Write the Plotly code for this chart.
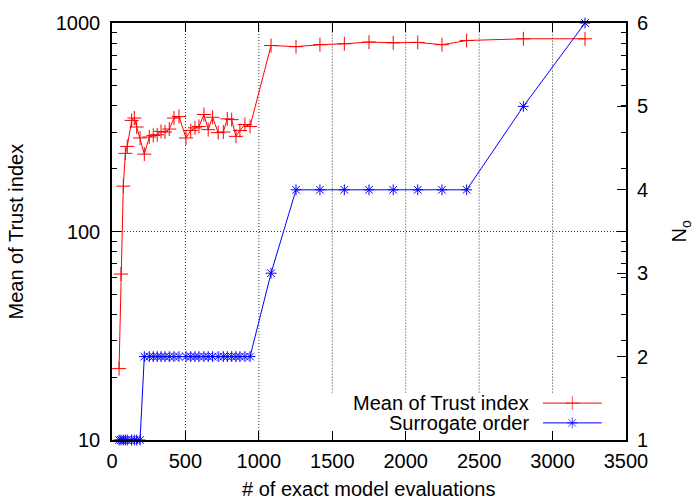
import plotly.graph_objects as go

# ---- data ----
evaluations = [48, 61, 77, 91, 104, 134, 152, 168, 191,
               220, 254, 281, 308, 334, 361, 390, 422, 456, 504, 536, 565, 592,
               626, 655, 685, 723, 758, 785, 815, 844, 871, 905, 940,
               1083, 1253, 1416, 1582, 1750, 1915, 2082, 2247, 2415, 2801, 3221]
trust_mean = [22, 62.5, 165, 237, 256, 341, 350, 317, 281,
              235, 284, 289, 291, 302, 300, 310, 350, 356, 281, 305, 314, 319,
              364, 308, 353, 298, 300, 347, 344, 286, 305, 326, 319,
              780, 770, 787, 795, 810, 804, 807, 787, 824, 840, 840]
surrogate_order = [1, 1, 1, 1, 1, 1, 1, 1, 1,
                   2, 2, 2, 2, 2, 2, 2, 2, 2, 2, 2, 2, 2,
                   2, 2, 2, 2, 2, 2, 2, 2, 2, 2, 2,
                   3, 4, 4, 4, 4, 4, 4, 4, 4, 5, 6]
x_ticks = [0, 500, 1000, 1500, 2000, 2500, 3000, 3500]
y_ticks = [10, 100, 1000]
y_minor = [20, 30, 40, 50, 60, 70, 80, 90, 200, 300, 400, 500, 600, 700, 800, 900]
y2_ticks = [1, 2, 3, 4, 5, 6]
series_names = ["Mean of Trust index", "Surrogate order"]

FONT = "Liberation Sans, Arial, Helvetica, sans-serif"
FS = 20
RED = "#ff0000"
BLUE = "#0000ff"
GRID = "#333333"

fig = go.Figure()
fig.add_trace(go.Scatter(
    x=evaluations, y=trust_mean, mode="lines+markers", name=series_names[0],
    line=dict(color=RED, width=1),
    marker=dict(symbol="cross-thin-open", size=10, line=dict(color=RED, width=1)),
    cliponaxis=False, showlegend=False))
fig.add_trace(go.Scatter(
    x=evaluations, y=surrogate_order, mode="lines+markers", name=series_names[1],
    yaxis="y2",
    line=dict(color=BLUE, width=1),
    marker=dict(symbol="asterisk-open", size=9, line=dict(color=BLUE, width=1)),
    cliponaxis=False, showlegend=False))

# legend samples (gnuplot-style: text left, sample right) on a hidden overlay axis
legend_y = [0.0884, 0.041]
for name, col, sym, ly in [(series_names[0], RED, "cross-thin-open", legend_y[0]),
                           (series_names[1], BLUE, "asterisk-open", legend_y[1])]:
    fig.add_trace(go.Scatter(
        x=[0.8385, 0.8955, 0.9527], y=[ly, ly, ly], mode="lines+markers",
        xaxis="x3", yaxis="y3",
        line=dict(color=col, width=1),
        marker=dict(symbol=sym, size=[0, 10 if sym.startswith("cross") else 9, 0],
                    line=dict(color=col, width=1)),
        showlegend=False, hoverinfo="skip", cliponaxis=False))
    fig.add_annotation(x=0.8152, y=ly, xref="paper", yref="paper", text=name,
                       showarrow=False, xanchor="right", yanchor="middle",
                       font=dict(size=FS, family=FONT, color="black"))

axis_common = dict(showline=True, linecolor="black", linewidth=1.5,
                   ticks="inside", ticklen=9, tickwidth=1.2, tickcolor="black",
                   tickfont=dict(size=FS, family=FONT, color="black"),
                   zeroline=False, showgrid=False)

fig.update_layout(
    width=698, height=500,
    margin=dict(l=112, r=72, t=18, b=60),
    paper_bgcolor="white", plot_bgcolor="white",
    font=dict(family=FONT, size=FS, color="black"),
    xaxis=dict(range=[0, 3500], tickmode="array", tickvals=x_ticks,
               mirror="ticks", ticklabelstandoff=2, **axis_common),
    yaxis=dict(type="log", range=[1, 3], tickmode="array", tickvals=y_ticks,
               ticktext=[str(v) for v in y_ticks],
               mirror="ticks", ticklabelstandoff=6,
               minor=dict(tickmode="array", tickvals=y_minor, ticks="inside",
                          ticklen=5, tickcolor="black", tickwidth=1),
               **axis_common),
    yaxis2=dict(overlaying="y", side="right", range=[1, 6], tickmode="array",
                tickvals=y2_ticks, showgrid=False, showline=False, zeroline=False,
                ticks="inside", ticklen=9, tickwidth=1.2, tickcolor="black",
                ticklabelstandoff=10,
                tickfont=dict(size=FS, family=FONT, color="black")),
    xaxis3=dict(overlaying="x", range=[0, 1], visible=False),
    yaxis3=dict(overlaying="y", range=[0, 1], visible=False, anchor="x3"),
)

# dotted grid; lines under the opaque key box stop at its top (as gnuplot does)
key_top = 0.1137
for xv in x_ticks[1:-1]:
    fig.add_shape(type="line", xref="x", yref="y domain", x0=xv, x1=xv,
                  y0=key_top if xv >= 1500 else 0, y1=1,
                  line=dict(color=GRID, width=1, dash="1px,2px"), layer="below")
for yv in y_ticks[1:-1]:
    fig.add_shape(type="line", xref="x domain", yref="y", x0=0, x1=1, y0=yv, y1=yv,
                  line=dict(color=GRID, width=1, dash="1px,2px"), layer="below")

# axis titles
fig.add_annotation(x=0.5, y=-0.1185, xref="paper", yref="paper",
                   text="# of exact model evaluations", showarrow=False,
                   xanchor="center", yanchor="middle",
                   font=dict(size=FS, family=FONT, color="black"))
fig.add_annotation(x=-0.1868, y=0.5, xref="paper", yref="paper",
                   text="Mean of Trust index", showarrow=False, textangle=-90,
                   xanchor="center", yanchor="middle",
                   font=dict(size=FS, family=FONT, color="black"))
fig.add_annotation(x=1.107, y=0.5, xref="paper", yref="paper",
                   text="N<sub>o</sub>", showarrow=False, textangle=-90,
                   xanchor="center", yanchor="middle",
                   font=dict(size=FS, family=FONT, color="black"))

fig.write_html("out.html")
